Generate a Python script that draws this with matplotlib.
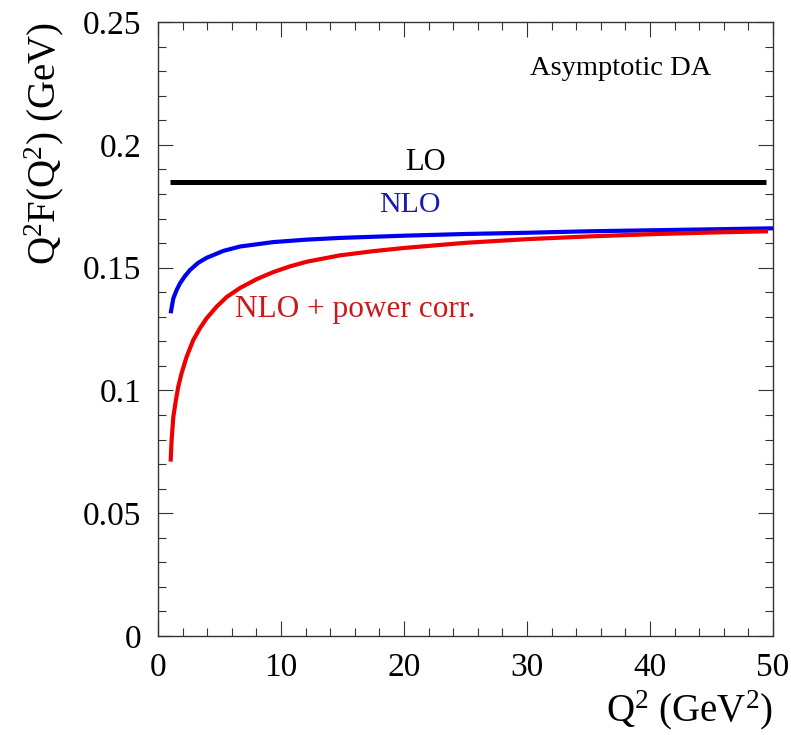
import numpy as np
import matplotlib.pyplot as plt
from matplotlib.ticker import MultipleLocator

# Werte
q2_lo = [1.0, 49.4]
f_lo = [0.185, 0.185]

q2_nlo = [1.03, 1.25, 1.52, 1.79, 2.20, 2.60, 3.28, 3.96, 5.31, 6.67, 9.38,
          12.09, 14.8, 20.0, 25.0, 30.0, 35.0, 40.0, 45.0, 50.0]
f_nlo = [0.1314, 0.1375, 0.1409, 0.1436, 0.1466, 0.1490, 0.1520, 0.1540,
         0.1568, 0.1586, 0.1604, 0.1614, 0.1621, 0.1630, 0.1637, 0.1642,
         0.1648, 0.1652, 0.1656, 0.1660]

q2_pc = [1.03, 1.11, 1.25, 1.46, 1.65, 1.92, 2.33, 2.87, 3.41, 3.96, 4.77,
         5.58, 6.67, 8.02, 9.38, 10.73, 12.09, 14.8, 17.5, 20.0, 25.0, 30.0,
         35.0, 40.0, 45.0, 49.6]
f_pc = [0.0710, 0.0798, 0.0893, 0.0961, 0.1015, 0.1070, 0.1137, 0.1205,
        0.1253, 0.1294, 0.1341, 0.1380, 0.1417, 0.1453, 0.1482, 0.1505,
        0.1524, 0.1550, 0.1567, 0.1580, 0.1601, 0.1616, 0.1627, 0.1636,
        0.1643, 0.1648]

xticks = [0, 10, 20, 30, 40, 50]
yticks = [0, 0.05, 0.1, 0.15, 0.2, 0.25]
ytick_labels = ["0", "0.05", "0.1", "0.15", "0.2", "0.25"]

plt.rcParams['font.family'] = ['Liberation Serif', 'DejaVu Serif']
plt.rcParams['mathtext.fontset'] = 'custom'
plt.rcParams['mathtext.rm'] = 'Liberation Serif'
plt.rcParams['mathtext.it'] = 'Liberation Serif:italic'
plt.rcParams['mathtext.bf'] = 'Liberation Serif:bold'

fig = plt.figure(figsize=(7.91, 7.35), dpi=100)
ax = fig.add_axes([0.1997, 0.1347, 0.7775, 0.8353])

ax.plot(q2_lo, f_lo, color="black", lw=3.6, solid_capstyle="butt")
ax.plot(q2_nlo, f_nlo, color="#0000ee", lw=3.0, solid_capstyle="butt")
ax.plot(q2_pc, f_pc, color="#ee0000", lw=3.0, solid_capstyle="butt")

ax.set_xlim(0, 50)
ax.set_ylim(0, 0.25)
ax.set_xticks(xticks)
ax.set_yticks(yticks)
ax.set_yticklabels(ytick_labels)
ax.xaxis.set_minor_locator(MultipleLocator(2))
ax.yaxis.set_minor_locator(MultipleLocator(0.01))
ax.tick_params(which="both", direction="in", top=True, right=True,
               labelsize=24, width=0.8, color="#333333")
ax.tick_params(which="major", length=11, pad=12)
ax.tick_params(which="minor", length=5.8)
for s in ax.spines.values():
    s.set_linewidth(1.0)
    s.set_color("#333333")

ax.text(30.24, 0.2284, "Asymptotic DA", fontsize=20.5, ha="left", va="baseline")
ax.text(20.08, 0.1897, "LO", fontsize=22, ha="left", va="baseline")
ax.text(18.0, 0.1726, "NLO", fontsize=21.5, ha="left", va="baseline",
        color="#1a1ab0")
ax.text(6.26, 0.1299, "NLO + power corr.", fontsize=22.5, ha="left", va="baseline",
        color="#cc1a1a")

ax.set_xlabel(r"Q$^2$ (GeV$^2$)", fontsize=28, loc="right", labelpad=4)
ax.set_ylabel(r"Q$^2$F(Q$^2$) (GeV)", fontsize=28, loc="top", labelpad=12)

fig.savefig("out.png", dpi=100)
